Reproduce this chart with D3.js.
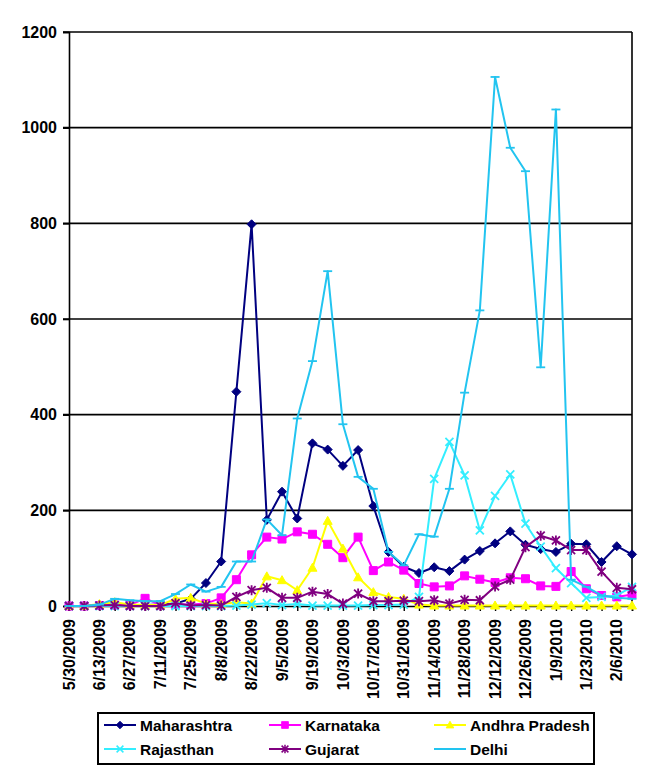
<!DOCTYPE html>
<html>
<head>
<meta charset="utf-8">
<script src="https://cdn.jsdelivr.net/npm/d3@7"></script>
<style>
  body { margin: 0; background: #fff; }
  text { font-family: "Liberation Sans", Arial, sans-serif; font-weight: bold; font-size: 15px; fill: #000; }
</style>
</head>
<body>
<div id="wrapper"></div>
<script>
// 1. Data (weekly counts)

const weeks = [
  "5/30/2009", "6/6/2009", "6/13/2009", "6/20/2009", "6/27/2009", "7/4/2009",
  "7/11/2009", "7/18/2009", "7/25/2009", "8/1/2009", "8/8/2009", "8/15/2009",
  "8/22/2009", "8/29/2009", "9/5/2009", "9/12/2009", "9/19/2009", "9/26/2009",
  "10/3/2009", "10/10/2009", "10/17/2009", "10/24/2009", "10/31/2009", "11/7/2009",
  "11/14/2009", "11/21/2009", "11/28/2009", "12/5/2009", "12/12/2009", "12/19/2009",
  "12/26/2009", "1/2/2010", "1/9/2010", "1/16/2010", "1/23/2010", "1/30/2010",
  "2/6/2010", "2/13/2010",
];
const tickLabels = weeks.filter((d, i) => i % 2 === 0);
const yTicks = [0, 200, 400, 600, 800, 1000, 1200];

const maharashtra = [0, 0, 2, 3, 2, 2, 3, 5, 15, 48, 93, 448, 798, 180, 239, 183, 340, 327,
  293, 326, 209, 113, 82, 69, 81, 73, 97, 115, 131, 156, 128, 119, 113, 130, 129, 92, 125, 108];
const karnataka = [0, 0, 1, 2, 2, 16, 2, 3, 3, 5, 17, 55, 107, 144, 140, 155, 150, 129,
  101, 144, 74, 92, 75, 47, 40, 42, 63, 56, 49, 59, 57, 42, 41, 72, 36, 22, 19, 24];
const andhraPradesh = [0, 0, 4, 8, 3, 2, 2, 15, 17, 5, 4, 8, 5, 62, 54, 33, 80, 178,
  120, 60, 29, 19, 15, 3, 1, 1, 1, 1, 1, 1, 1, 1, 1, 1, 1, 1, 1, 1];
const rajasthan = [0, 0, 0, 0, 0, 0, 0, 0, 0, 0, 0, 1, 3, 6, 2, 4, 1, 1,
  1, 1, 2, 2, 3, 19, 266, 343, 273, 158, 230, 275, 172, 124, 79, 48, 17, 19, 22, 40];
const gujarat = [0, 0, 1, 2, 0, 0, 0, 6, 1, 2, 1, 19, 33, 38, 17, 17, 30, 25,
  5, 26, 10, 10, 11, 10, 12, 5, 13, 12, 41, 55, 123, 147, 137, 117, 117, 72, 38, 35];
const delhi = [0, 0, 3, 15, 12, 10, 10, 25, 45, 30, 40, 93, 93, 181, 148, 392, 512, 700,
  380, 270, 245, 113, 85, 150, 145, 245, 446, 618, 1106, 958, 909, 499, 1038, 55, 40, 22, 17, 15];

// marker paths, centred on 0,0
const diamond = "M0,-4.5L4.5,0L0,4.5L-4.5,0Z";
const square = "M-4,-4H4V4H-4Z";
const triangle = "M0,-4.5L4.5,3.5H-4.5Z";
const cross = "M-4,-4L4,4M-4,4L4,-4";
const star = "M-4,-4L4,4M-4,4L4,-4M0,-5V5";
const dash = "M-4.5,0H4.5";

const series = [
  { name: "Maharashtra", values: maharashtra, color: "#000080", marker: diamond, filled: true },
  { name: "Karnataka", values: karnataka, color: "#ff00ff", marker: square, filled: true },
  { name: "Andhra Pradesh", values: andhraPradesh, color: "#ffff00", marker: triangle, filled: true },
  { name: "Rajasthan", values: rajasthan, color: "#33eeff", marker: cross, filled: false },
  { name: "Gujarat", values: gujarat, color: "#800080", marker: star, filled: false },
  { name: "Delhi", values: delhi, color: "#22c4f0", marker: dash, filled: false },
];

// 2. Dimensions

const dimensions = {
  width: 645,
  height: 777,
  margin: { top: 32, right: 13, bottom: 171, left: 69 },
};
dimensions.boundedWidth = dimensions.width - dimensions.margin.left - dimensions.margin.right;
dimensions.boundedHeight = dimensions.height - dimensions.margin.top - dimensions.margin.bottom;

// 3. Canvas

const wrapper = d3.select("#wrapper")
  .append("svg")
    .attr("width", dimensions.width)
    .attr("height", dimensions.height);

const bounds = wrapper.append("g")
  .attr("transform", `translate(${dimensions.margin.left},${dimensions.margin.top})`);

// 4. Scales

const xScale = d3.scalePoint()
  .domain(weeks)
  .range([0, dimensions.boundedWidth])
  .padding(0);

const yScale = d3.scaleLinear()
  .domain([0, 1200])
  .range([dimensions.boundedHeight, 0]);

// 5. Axes and grid

bounds.append("g")
    .attr("class", "grid")
  .selectAll("line")
  .data(yTicks.filter(d => d > 0))
  .join("line")
    .attr("x1", -6)
    .attr("x2", dimensions.boundedWidth)
    .attr("y1", d => yScale(d))
    .attr("y2", d => yScale(d))
    .attr("stroke", "#000")
    .attr("stroke-width", 1.6);

const yAxis = d3.axisLeft(yScale)
  .tickValues(yTicks)
  .tickFormat(d3.format("d"))
  .tickSize(6)
  .tickPadding(6);
const yAxisGroup = bounds.append("g").call(yAxis);
yAxisGroup.select(".domain").attr("stroke-width", 1.6);
yAxisGroup.selectAll(".tick line").attr("stroke-width", 1.6);
yAxisGroup.selectAll("text")
  .style("font-family", '"Liberation Sans", Arial, sans-serif')
  .style("font-size", "16px")
  .style("font-weight", "bold");

// right border of the plot area
bounds.append("line")
  .attr("x1", dimensions.boundedWidth)
  .attr("x2", dimensions.boundedWidth)
  .attr("y1", 0)
  .attr("y2", dimensions.boundedHeight)
  .attr("stroke", "#000")
  .attr("stroke-width", 1.6);

const xAxis = d3.axisBottom(xScale)
  .tickSize(5)
  .tickFormat(() => "");
const xAxisGroup = bounds.append("g")
  .attr("transform", `translate(0,${dimensions.boundedHeight})`)
  .call(xAxis);
xAxisGroup.select(".domain").attr("stroke-width", 1.6);
xAxisGroup.selectAll(".tick line").attr("stroke-width", 1.4);

bounds.append("g")
  .selectAll("text")
  .data(tickLabels)
  .join("text")
    .attr("transform", d => `translate(${xScale(d)},${dimensions.boundedHeight + 13}) rotate(-90)`)
    .attr("text-anchor", "end")
    .attr("dy", "0.35em")
    .style("font-size", "16px")
    .text(d => d);

// 6. Lines and markers

const lineGenerator = d3.line()
  .x((d, i) => xScale(weeks[i]))
  .y(d => yScale(d));

const seriesGroups = bounds.selectAll(".series")
  .data(series)
  .join("g")
    .attr("class", "series");

seriesGroups.append("path")
  .attr("d", d => lineGenerator(d.values))
  .attr("fill", "none")
  .attr("stroke", d => d.color)
  .attr("stroke-width", 2)
  .attr("stroke-linejoin", "round");

seriesGroups.each(function (s) {
  d3.select(this).selectAll(".marker")
    .data(s.values)
    .join("path")
      .attr("class", "marker")
      .attr("transform", (d, i) => `translate(${xScale(weeks[i])},${yScale(d)})`)
      .attr("d", s.marker)
      .attr("fill", s.filled ? s.color : "none")
      .attr("stroke", s.color)
      .attr("stroke-width", s.filled ? 1 : 1.8);
});

// 7. Legend

const legend = wrapper.append("g")
  .attr("transform", "translate(98,713)");

legend.append("rect")
  .attr("width", 496)
  .attr("height", 51)
  .attr("fill", "#fff")
  .attr("stroke", "#000")
  .attr("stroke-width", 2);

const legendItems = legend.selectAll(".legend-item")
  .data(series)
  .join("g")
    .attr("class", "legend-item")
    .attr("transform", (d, i) => `translate(${6 + (i % 3) * 165},${i < 3 ? 12 : 36})`);

legendItems.append("line")
  .attr("x1", 0)
  .attr("x2", 32)
  .attr("stroke", d => d.color)
  .attr("stroke-width", 2);

legendItems.append("path")
  .attr("transform", "translate(16,0) scale(0.85)")
  .attr("d", d => d.marker)
  .attr("fill", d => d.filled ? d.color : "none")
  .attr("stroke", d => d.color)
  .attr("stroke-width", d => d.filled ? 1 : 1.8);

legendItems.append("text")
  .attr("x", 36)
  .attr("dy", "0.36em")
  .style("font-size", "15.5px")
  .text(d => d.name);
</script>
</body>
</html>
